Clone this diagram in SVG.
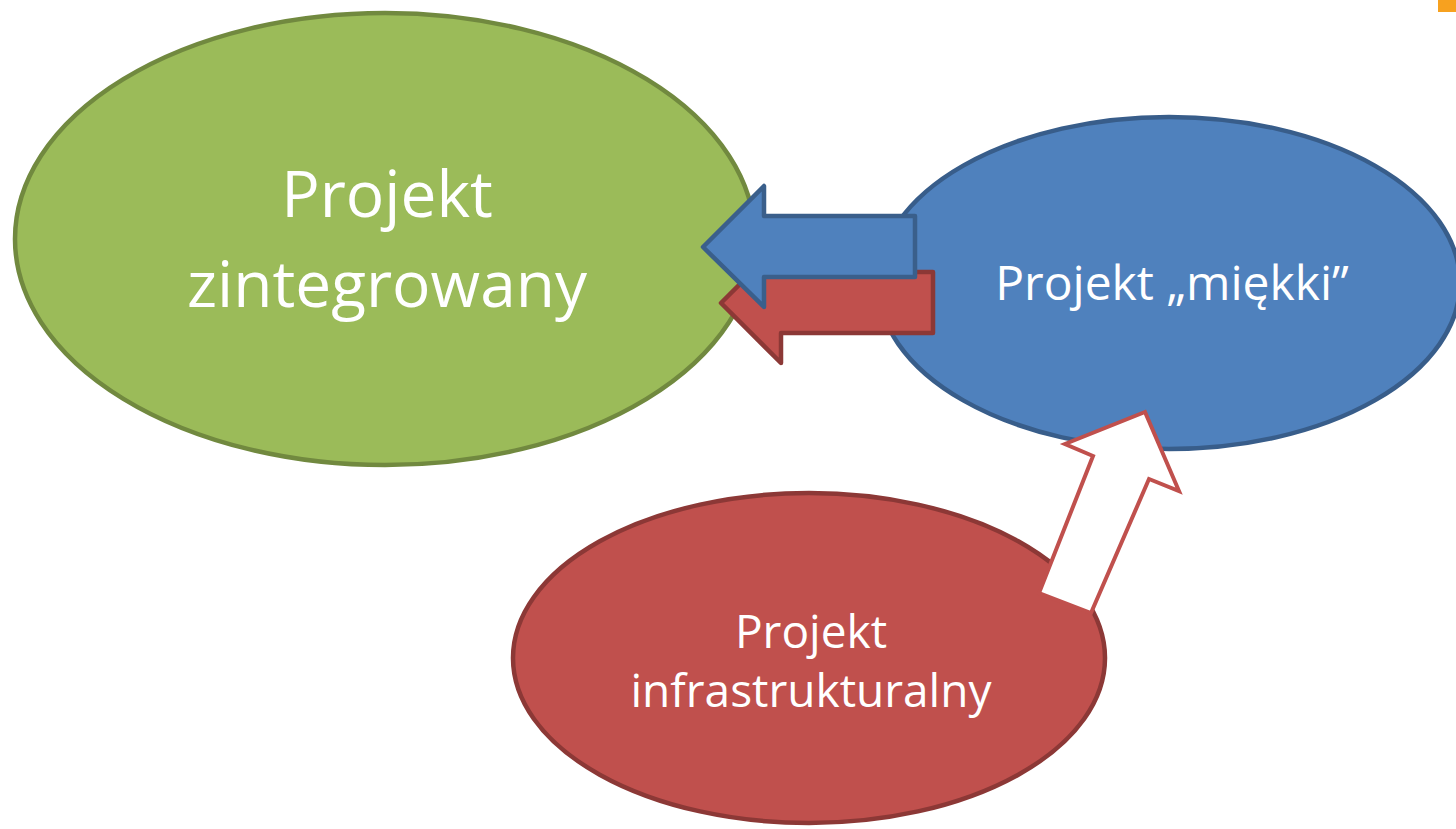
<svg xmlns="http://www.w3.org/2000/svg" width="1456" height="829" viewBox="0 0 1456 829">
<style>
.lbl{font-family:"Open Sans","Liberation Sans",sans-serif;fill:#FFFFFF;text-anchor:middle}
.big{font-size:64px}
.mid{font-size:48px}
.sm{font-size:46px}
</style>
<rect x="0" y="0" width="1456" height="829" fill="#FFFFFF"/>
<rect x="1438" y="0" width="18" height="12" fill="#F7A11F"/>
<g id="node-zintegrowany">
<ellipse cx="385" cy="239" rx="370" ry="226" fill="#9BBB59" stroke="#71893F" stroke-width="4.5"/>
<text class="lbl big" x="387" y="217">Projekt</text>
<text class="lbl big" x="387" y="307">zintegrowany</text>
</g>
<g id="node-miekki">
<ellipse cx="1169" cy="283" rx="291" ry="166" fill="#4F81BD" stroke="#385D8A" stroke-width="4.5"/>
<text class="lbl mid" x="1172" y="300">Projekt „miękki”</text>
</g>
<g id="node-infrastrukturalny">
<ellipse cx="809" cy="658" rx="296" ry="165" fill="#C0504D" stroke="#8C3836" stroke-width="4.5"/>
<text class="lbl sm" x="811" y="648">Projekt</text>
<text class="lbl sm" x="811" y="707">infrastrukturalny</text>
</g>
<g id="connectors">
<path d="M721,303 L781,243 L781,272 L933,272 L933,333 L781,333 L781,363 Z" fill="#C0504D" stroke="#8C3836" stroke-width="4.5" stroke-linejoin="round"/>
<path d="M703,247 L764,186 L764,216 L915,216 L915,277 L764,277 L764,307 Z" fill="#4F81BD" stroke="#3A5F8B" stroke-width="4.5" stroke-linejoin="round"/>
<path d="M1145,412 L1179,491 L1149,479 L1091,613 L1039,593 L1093,456 L1065,444 Z" fill="#FFFFFF" stroke="#C0504D" stroke-width="4"/>
</g>
</svg>
